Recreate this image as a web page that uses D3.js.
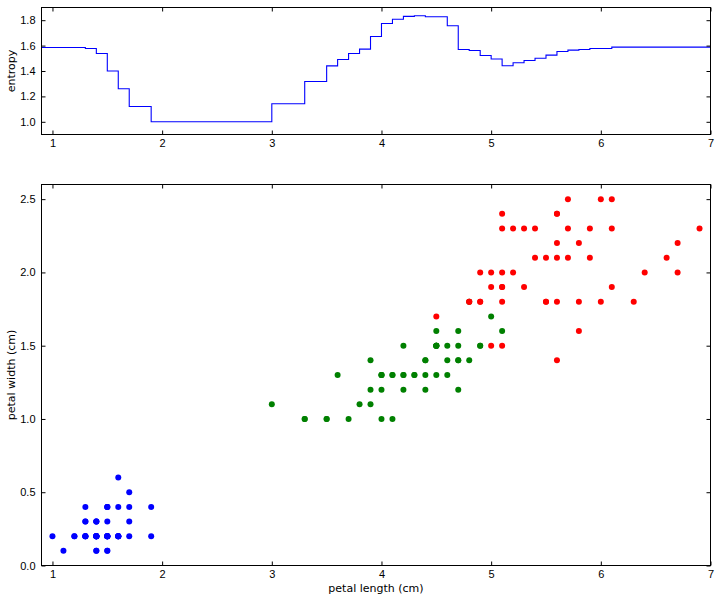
<!DOCTYPE html>
<html>
  <head>
    <meta charset="utf-8" />
    <title>Iris petal entropy</title>
    <style>
      body {
        margin: 0;
        background: #fff;
      }
      svg {
        display: block;
        font-family: "DejaVu Sans", sans-serif;
      }
      .axis text {
        font-size: 11px;
        fill: #000;
      }
      .axis path {
        display: none;
      }
      .axis line {
        stroke: #000;
      }
      .frame {
        fill: none;
        stroke: #000;
        stroke-width: 1;
      }
      .label {
        font-size: 11px;
      }
    </style>
    <script src="https://d3js.org/d3.v7.min.js" charset="utf-8"></script>
  </head>
  <body>
    <script>
      // entropy step function (value holds from threshold to the next)
      const thresholds = [0.9, 1.2, 1.3, 1.4, 1.5, 1.6, 1.7, 1.9, 3.0, 3.3, 3.5, 3.6, 3.7, 3.8, 3.9, 4.0, 4.1, 4.2, 4.3, 4.4, 4.6, 4.7, 4.8, 4.9, 5.0, 5.1, 5.2, 5.3, 5.4, 5.5, 5.6, 5.7, 5.8, 5.9, 6.1, 7.0];
      const entropy = [1.585, 1.585, 1.577, 1.538, 1.40, 1.26, 1.12, 1.0, 1.142, 1.317, 1.44, 1.49, 1.538, 1.572, 1.672, 1.774, 1.808, 1.83, 1.835, 1.827, 1.756, 1.569, 1.561, 1.522, 1.494, 1.441, 1.465, 1.483, 1.50, 1.525, 1.553, 1.564, 1.569, 1.577, 1.588, 1.588];

      // petal length / width per species
      const setosaLength = [1.4, 1.4, 1.3, 1.5, 1.4, 1.7, 1.4, 1.5, 1.4, 1.5, 1.5, 1.6, 1.4, 1.1, 1.2, 1.5, 1.3, 1.4, 1.7, 1.5, 1.7, 1.5, 1.0, 1.7, 1.9, 1.6, 1.6, 1.5, 1.4, 1.6, 1.6, 1.5, 1.5, 1.4, 1.5, 1.2, 1.3, 1.4, 1.3, 1.5, 1.3, 1.3, 1.3, 1.6, 1.9, 1.4, 1.6, 1.4, 1.5, 1.4];
      const setosaWidth = [0.2, 0.2, 0.2, 0.2, 0.2, 0.4, 0.3, 0.2, 0.2, 0.1, 0.2, 0.2, 0.1, 0.1, 0.2, 0.4, 0.4, 0.3, 0.3, 0.3, 0.2, 0.4, 0.2, 0.5, 0.2, 0.2, 0.4, 0.2, 0.2, 0.2, 0.2, 0.4, 0.1, 0.2, 0.2, 0.2, 0.2, 0.1, 0.2, 0.2, 0.3, 0.3, 0.2, 0.6, 0.4, 0.3, 0.2, 0.2, 0.2, 0.2];
      const versicolorLength = [4.7, 4.5, 4.9, 4.0, 4.6, 4.5, 4.7, 3.3, 4.6, 3.9, 3.5, 4.2, 4.0, 4.7, 3.6, 4.4, 4.5, 4.1, 4.5, 3.9, 4.8, 4.0, 4.9, 4.7, 4.3, 4.4, 4.8, 5.0, 4.5, 3.5, 3.8, 3.7, 3.9, 5.1, 4.5, 4.5, 4.7, 4.4, 4.1, 4.0, 4.4, 4.6, 4.0, 3.3, 4.2, 4.2, 4.2, 4.3, 3.0, 4.1];
      const versicolorWidth = [1.4, 1.5, 1.5, 1.3, 1.5, 1.3, 1.6, 1.0, 1.3, 1.4, 1.0, 1.5, 1.0, 1.4, 1.3, 1.4, 1.5, 1.0, 1.5, 1.1, 1.8, 1.3, 1.5, 1.2, 1.3, 1.4, 1.4, 1.7, 1.5, 1.0, 1.1, 1.0, 1.2, 1.6, 1.5, 1.6, 1.5, 1.3, 1.3, 1.3, 1.2, 1.4, 1.2, 1.0, 1.3, 1.2, 1.3, 1.3, 1.1, 1.3];
      const virginicaLength = [6.0, 5.1, 5.9, 5.6, 5.8, 6.6, 4.5, 6.3, 5.8, 6.1, 5.1, 5.3, 5.5, 5.0, 5.1, 5.3, 5.5, 6.7, 6.9, 5.0, 5.7, 4.9, 6.7, 4.9, 5.7, 6.0, 4.8, 4.9, 5.6, 5.8, 6.1, 6.4, 5.6, 5.1, 5.6, 6.1, 5.6, 5.5, 4.8, 5.4, 5.6, 5.1, 5.1, 5.9, 5.7, 5.2, 5.0, 5.2, 5.4, 5.1];
      const virginicaWidth = [2.5, 1.9, 2.1, 1.8, 2.2, 2.1, 1.7, 1.8, 1.8, 2.5, 2.0, 1.9, 2.1, 2.0, 2.4, 2.3, 1.8, 2.2, 2.3, 1.5, 2.3, 2.0, 2.0, 1.8, 2.1, 1.8, 1.8, 1.8, 2.1, 1.6, 1.9, 2.0, 2.2, 1.5, 1.4, 2.3, 2.4, 1.8, 1.8, 2.1, 2.4, 2.3, 1.9, 2.3, 2.5, 2.3, 1.9, 2.0, 2.3, 1.8];

      const xTicks = [1, 2, 3, 4, 5, 6, 7];
      const entropyTicks = [1.0, 1.2, 1.4, 1.6, 1.8];
      const widthTicks = [0.0, 0.5, 1.0, 1.5, 2.0, 2.5];

      const W = 719,
        H = 601;
      const left = 41.5,
        right = 710.5;
      const top1 = 7.5,
        bottom1 = 134.5;
      const top2 = 184.5,
        bottom2 = 565.5;

      const svg = d3.select("body").append("svg").attr("width", W).attr("height", H);

      const x = d3.scaleLinear().domain([0.9, 7]).range([left, right]);
      const y1 = d3.scaleLinear().domain([0.9, 1.9]).range([bottom1, top1]);
      const y2 = d3.scaleLinear().domain([0, 2.6]).range([bottom2, top2]);

      function drawAxes(y, top, bottom, yTicks, yFormat) {
        svg
          .append("g")
          .attr("class", "axis")
          .attr("transform", "translate(0," + bottom + ")")
          .call(d3.axisBottom(x).tickValues(xTicks).tickFormat(d3.format("d")).tickSizeInner(-4).tickSizeOuter(0).tickPadding(5));
        svg
          .append("g")
          .attr("class", "axis")
          .attr("transform", "translate(0," + top + ")")
          .call(d3.axisTop(x).tickValues(xTicks).tickFormat("").tickSizeInner(-4).tickSizeOuter(0));
        svg
          .append("g")
          .attr("class", "axis")
          .attr("transform", "translate(" + left + ",0)")
          .call(d3.axisLeft(y).tickValues(yTicks).tickFormat(d3.format(yFormat)).tickSizeInner(-4).tickSizeOuter(0).tickPadding(6));
        svg
          .append("g")
          .attr("class", "axis")
          .attr("transform", "translate(" + right + ",0)")
          .call(d3.axisRight(y).tickValues(yTicks).tickFormat("").tickSizeInner(-4).tickSizeOuter(0));
      }

      // top panel: entropy
      const steps = thresholds.map(function (t, i) {
        return { x: t, y: entropy[i] };
      });
      svg
        .append("path")
        .datum(steps)
        .attr("fill", "none")
        .attr("stroke", "#0000ff")
        .attr("stroke-width", 1.1)
        .attr(
          "d",
          d3
            .line()
            .curve(d3.curveStepAfter)
            .x(function (d) {
              return x(d.x);
            })
            .y(function (d) {
              return y1(d.y);
            })
        );
      drawAxes(y1, top1, bottom1, entropyTicks, ".1f");
      svg
        .append("rect")
        .attr("class", "frame")
        .attr("x", left)
        .attr("y", top1)
        .attr("width", right - left)
        .attr("height", bottom1 - top1);
      svg
        .append("text")
        .attr("class", "label")
        .attr("transform", "translate(15," + (top1 + bottom1) / 2 + ")rotate(-90)")
        .attr("text-anchor", "middle")
        .text("entropy");

      // bottom panel: scatter
      const species = [
        { color: "#0000ff", len: setosaLength, wid: setosaWidth },
        { color: "#008000", len: versicolorLength, wid: versicolorWidth },
        { color: "#ff0000", len: virginicaLength, wid: virginicaWidth },
      ];
      species.forEach(function (s) {
        svg
          .append("g")
          .selectAll("circle")
          .data(s.len)
          .join("circle")
          .attr("cx", function (d) {
            return x(d);
          })
          .attr("cy", function (d, i) {
            return y2(s.wid[i]);
          })
          .attr("r", 3)
          .attr("fill", s.color);
      });
      drawAxes(y2, top2, bottom2, widthTicks, ".1f");
      svg
        .append("rect")
        .attr("class", "frame")
        .attr("x", left)
        .attr("y", top2)
        .attr("width", right - left)
        .attr("height", bottom2 - top2);
      svg
        .append("text")
        .attr("class", "label")
        .attr("transform", "translate(15," + (top2 + bottom2) / 2 + ")rotate(-90)")
        .attr("text-anchor", "middle")
        .text("petal width (cm)");
      svg
        .append("text")
        .attr("class", "label")
        .attr("x", (left + right) / 2)
        .attr("y", 592)
        .attr("text-anchor", "middle")
        .text("petal length (cm)");
    </script>
  </body>
</html>
